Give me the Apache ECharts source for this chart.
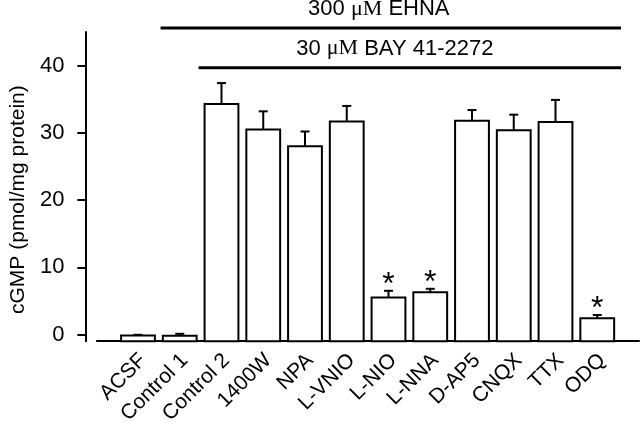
<!DOCTYPE html>
<html>
<head>
<meta charset="utf-8">
<script src="https://cdn.jsdelivr.net/npm/echarts@6/dist/echarts.min.js"></script>
<style>
  html, body { margin: 0; padding: 0; background: #fff; }
  #main { width: 640px; height: 427px; }
</style>
</head>
<body>
<div id="main"></div>
<script>
// 数据
var categories = ['ACSF', 'Control 1', 'Control 2', '1400W', 'NPA', 'L-VNIO', 'L-NIO', 'L-NNA', 'D-AP5', 'CNQX', 'TTX', 'ODQ'];
var means = [-0.15, -0.2, 34.3, 30.5, 28.0, 31.7, 5.5, 6.3, 31.8, 30.4, 31.6, 2.4];
var sems = [0.1, 0.3, 3.1, 2.7, 2.2, 2.3, 1.0, 0.5, 1.6, 2.3, 3.3, 0.5];
var significant = [0, 0, 0, 0, 0, 0, 1, 1, 0, 0, 0, 1];
var yTicks = [0, 10, 20, 30, 40];
// 顶部处理条: 起点/终点 (类别序号), 高度 (数值)
var spanStart = [0.54, 1.45];
var spanEnd = [11.57, 11.57];
var spanLevel = [45.6, 39.7];
var spanText = ['300 {u|μM} EHNA', '30 {u|μM} BAY 41-2272'];
var spanTextShift = [-12, -15];

var Y_MIN = -1;
var LABEL_SHIFT = 0.12; // 斜标签稍向右
var FONT = 'Liberation Sans, Arial, sans-serif';
var SERIF = 'Liberation Serif, Times New Roman, serif';

var myChart = echarts.init(document.getElementById('main'));

function renderBar (params, api) {
  var i = api.value(0);
  var m = api.value(1);
  var e = api.value(2);
  var s = api.value(3);
  var base = api.coord([i, Y_MIN]);
  var top = api.coord([i, m]);
  var errTop = api.coord([i, m + e]);
  var w = api.size([1, 0])[0] * 0.81;
  var lineStyle = { stroke: '#000', lineWidth: 2 };
  var children = [
    {
      type: 'rect',
      shape: { x: top[0] - w / 2, y: top[1], width: w, height: base[1] - top[1] },
      style: { fill: '#fff', stroke: '#000', lineWidth: 2 },
    },
    {
      type: 'line',
      shape: { x1: top[0], y1: top[1], x2: errTop[0], y2: errTop[1] },
      style: lineStyle,
    },
    {
      type: 'line',
      shape: { x1: errTop[0] - 4.5, y1: errTop[1], x2: errTop[0] + 4.5, y2: errTop[1] },
      style: lineStyle,
    },
  ];
  if (s) {
    children.push({
      type: 'text',
      style: {
        text: '*',
        x: errTop[0],
        y: errTop[1] - 6,
        align: 'center',
        verticalAlign: 'middle',
        fontSize: 32,
        fontFamily: FONT,
        fill: '#000',
      },
    });
  }
  return { type: 'group', children: children };
}

function renderSpan (params, api) {
  var idx = params.dataIndex;
  var p1 = api.coord([api.value(0), api.value(2)]);
  var p2 = api.coord([api.value(1), api.value(2)]);
  return {
    type: 'group',
    children: [
      {
        type: 'line',
        shape: { x1: p1[0], y1: p1[1], x2: p2[0], y2: p2[1] },
        style: { stroke: '#000', lineWidth: 3 },
      },
      {
        type: 'text',
        style: {
          text: spanText[idx],
          x: (p1[0] + p2[0]) / 2 + spanTextShift[idx],
          y: p1[1] - 8,
          align: 'center',
          verticalAlign: 'bottom',
          fontSize: 22,
          fontFamily: FONT,
          fill: '#000',
          rich: {
            u: { fontSize: 22, fontFamily: SERIF, fill: '#000' },
          },
        },
      },
    ],
  };
}

var option = {
  backgroundColor: '#fff',
  animation: false,
  grid: { left: 95, right: 1, top: 32, bottom: 85.3 },
  xAxis: {
    type: 'value',
    min: -0.985,
    max: 12,
    splitLine: { show: false },
    axisLine: { show: true, onZero: false, lineStyle: { color: '#000', width: 2 } },
    axisTick: { show: false },
    axisLabel: {
      customValues: categories.map(function (c, i) { return i + LABEL_SHIFT; }),
      formatter: function (v) { return categories[Math.round(v - LABEL_SHIFT)]; },
      rotate: 45,
      margin: 16,
      fontSize: 21,
      fontFamily: FONT,
      color: '#000',
    },
  },
  yAxis: {
    type: 'value',
    min: Y_MIN,
    max: 45,
    offset: 11.5,
    name: 'cGMP (pmol/mg protein)',
    nameLocation: 'middle',
    nameGap: 49,
    nameTextStyle: { fontSize: 21, fontFamily: FONT, color: '#000', padding: [0, 26, 0, 0] },
    splitLine: { show: false },
    axisLine: { show: true, onZero: false, lineStyle: { color: '#000', width: 2 } },
    axisTick: { show: true, length: 8, customValues: yTicks, lineStyle: { color: '#000', width: 2 } },
    axisLabel: {
      customValues: yTicks,
      margin: 21,
      fontSize: 22,
      fontFamily: FONT,
      color: '#000',
    },
  },
  series: [
    {
      type: 'custom',
      renderItem: renderBar,
      encode: { x: 0, y: 1 },
      clip: false,
      data: means.map(function (m, i) { return [i, m, sems[i], significant[i]]; }),
    },
    {
      type: 'custom',
      renderItem: renderSpan,
      encode: { x: [0, 1], y: 2 },
      clip: false,
      silent: true,
      data: spanStart.map(function (s, i) { return [s, spanEnd[i], spanLevel[i]]; }),
    },
  ],
};

myChart.setOption(option);
</script>
</body>
</html>
